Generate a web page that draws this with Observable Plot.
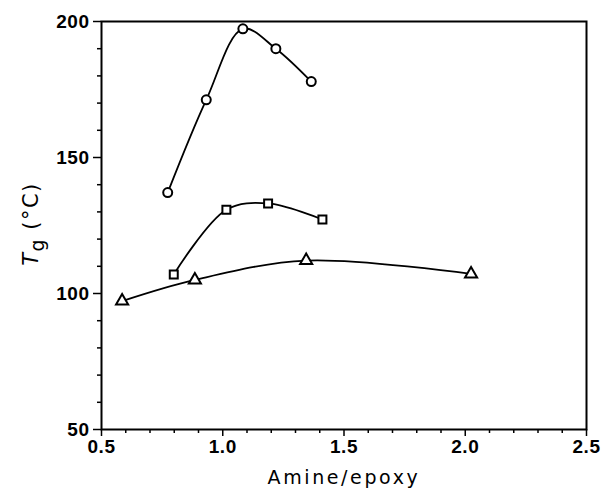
<!DOCTYPE html>
<html>
<head>
<meta charset="utf-8">
<script src="https://cdn.jsdelivr.net/npm/d3@7"></script>
<script src="https://cdn.jsdelivr.net/npm/@observablehq/plot@0.6"></script>
<style>
  body { margin: 0; background: #fff; }
  #chart svg { display: block; }
</style>
</head>
<body>
<div id="chart"></div>
<script>
// Series: circles
const circleX = [0.773, 0.932, 1.083, 1.219, 1.365];
const circleY = [137.1, 171.2, 197.3, 190.0, 177.9];
// Series: squares
const squareX = [0.798, 1.015, 1.187, 1.411];
const squareY = [107.0, 130.8, 133.1, 127.2];
// Series: triangles
const triangleX = [0.585, 0.885, 1.344, 2.024];
const triangleY = [97.2, 105.0, 112.1, 107.2];

const xTicks = [0.5, 1.0, 1.5, 2.0, 2.5];
const xMinor = [0.6, 0.7, 0.8, 0.9, 1.1, 1.2, 1.3, 1.4, 1.6, 1.7, 1.8, 1.9, 2.1, 2.2, 2.3, 2.4];
const yTicks = [50, 100, 150, 200];
const yMinor = [60, 70, 80, 90, 110, 120, 130, 140, 160, 170, 180, 190];

const xLabel = "Amine/epoxy";

const mk = (xs, ys, s) => xs.map((x, i) => ({x, y: ys[i], s}));
const circles = mk(circleX, circleY, "circle");
const squares = mk(squareX, squareY, "square");
const triangles = mk(triangleX, triangleY, "triangle");

const W = 602, H = 498;
const font = "Liberation Sans, Arial, sans-serif";

const chart = Plot.plot({
  width: W,
  height: H,
  marginLeft: 101,
  marginRight: 16,
  marginTop: 21,
  marginBottom: 69,
  style: {fontFamily: font, fontSize: "19px", color: "#000", background: "#fff"},
  x: {domain: [0.5, 2.5]},
  y: {domain: [50, 200]},
  marks: [
    Plot.frame({stroke: "#000", strokeWidth: 2}),
    Plot.axisX({ticks: xMinor, tickSize: 4, tickFormat: () => "", label: null, strokeWidth: 1.5}),
    Plot.axisY({ticks: yMinor, tickSize: 4, tickFormat: () => "", label: null, strokeWidth: 1.5}),
    Plot.axisX({ticks: xTicks, tickSize: 7, tickPadding: 3, tickFormat: d3.format(".1f"), label: null, strokeWidth: 1.5, fontWeight: "bold"}),
    Plot.axisY({ticks: yTicks, tickSize: 8, tickPadding: 4, tickFormat: d3.format("d"), label: null, strokeWidth: 1.5, fontWeight: "bold"}),
    Plot.line(circles, {x: "x", y: "y", curve: "catmull-rom", stroke: "#000", strokeWidth: 1.8}),
    Plot.line(squares, {x: "x", y: "y", curve: "catmull-rom", stroke: "#000", strokeWidth: 1.8}),
    Plot.line(triangles, {x: "x", y: "y", curve: "catmull-rom", stroke: "#000", strokeWidth: 1.8}),
    Plot.dot(circles, {x: "x", y: "y", symbol: "circle", r: 4.5, fill: "#fff", stroke: "#000", strokeWidth: 2}),
    Plot.dot(squares, {x: "x", y: "y", symbol: "square", r: 4.5, fill: "#fff", stroke: "#000", strokeWidth: 2}),
    Plot.dot(triangles, {x: "x", y: "y", symbol: "triangle", r: 4.5, fill: "#fff", stroke: "#000", strokeWidth: 2})
  ]
});

document.getElementById("chart").appendChild(chart);

const svg = d3.select(chart);
svg.selectAll("text").style("font-weight", "bold").style("letter-spacing", "0.5px");

svg.append("text")
  .attr("x", 344).attr("y", 484)
  .attr("text-anchor", "middle")
  .style("font-family", "DejaVu Sans, sans-serif")
  .style("font-size", "19px")
  .style("letter-spacing", "2.6px")
  .style("font-weight", "normal")
  .text(xLabel);

const yl = svg.append("text")
  .attr("transform", "translate(38,224) rotate(-90)")
  .attr("text-anchor", "middle")
  .style("font-family", "DejaVu Sans, sans-serif")
  .style("font-size", "21px")
  .style("letter-spacing", "1.5px")
  .style("font-weight", "normal");
yl.append("tspan").style("font-style", "italic").text("T");
yl.append("tspan").attr("dy", 6).style("font-size", "19px").text("g");
yl.append("tspan").attr("dy", -6).text(" (°C)");
</script>
</body>
</html>
